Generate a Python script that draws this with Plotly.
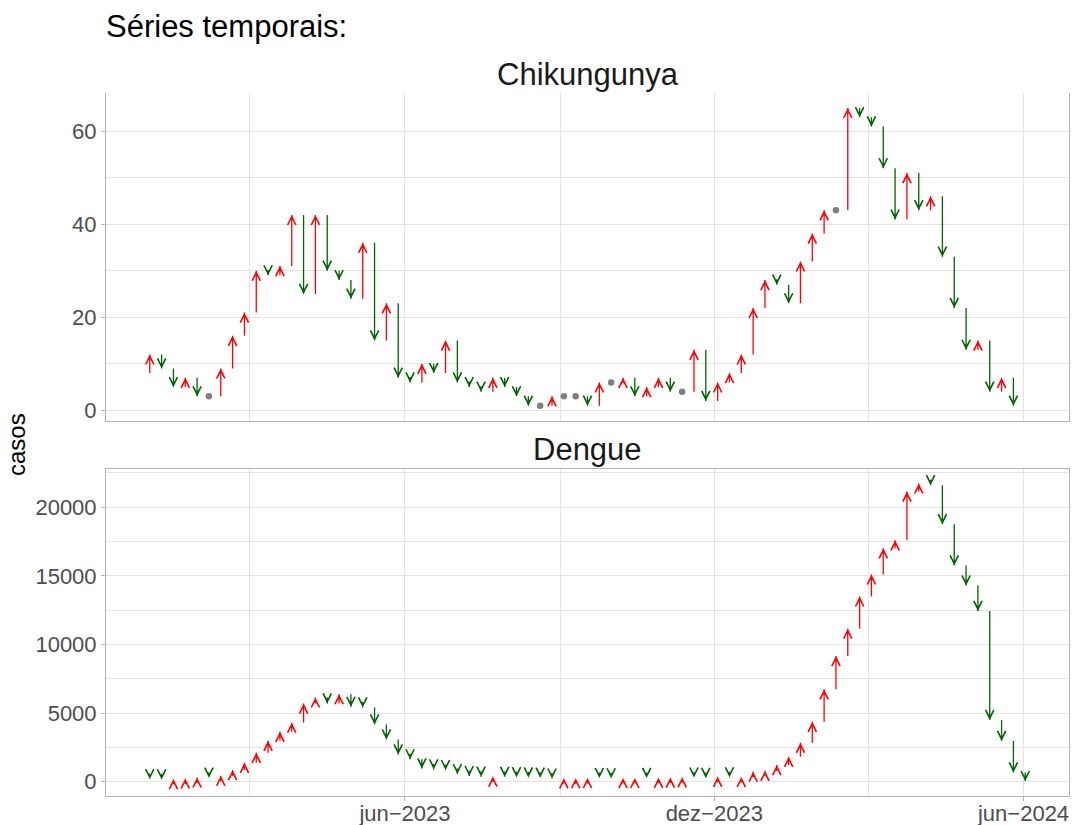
import pandas as pd
import plotly.graph_objects as go

# ---------------- data ----------------
first_week = "2022-12-25"  # week before the first arrow (start value of first arrow)
chik_casos = [8, 12, 9, 5, 7, 3, 3, 9, 16, 21, 30, 29, 31, 42, 25, 42, 30, 28, 24, 36,
              15, 23, 7, 6, 10, 8, 15, 6, 5, 4, 7, 5, 3, 1, 1, 3, 3, 3, 1, 6,
              6, 7, 3, 5, 7, 4, 4, 13, 2, 6, 8, 12, 22, 28, 27, 23, 32, 38, 43, 43,
              65, 63, 61, 52, 41, 51, 43, 46, 33, 22, 13, 15, 4, 7, 1]
dengue_casos = [230, 190, 165, 190, 240, 315, 290, 440, 850, 1380, 2110,
                2980, 3640, 4300, 5700, 6140, 5700, 6380, 5460, 5410, 4175,
                3080, 1990, 1630, 970, 900, 850, 560, 410, 365, 380,
                350, 330, 310, 290, 230, 245, 260, 275, 265, 250,
                265, 280, 270, 285, 300, 320, 300, 280, 360, 320,
                350, 730, 800, 1215, 1820, 2840, 4370, 6730, 9160, 11150,
                13500, 15100, 17000, 17590, 21140, 21730, 21600, 18760, 15750, 14290,
                12440, 4500, 2970, 680, 45]
x_tick_vals = ["2023-06-01", "2023-12-01", "2024-06-01"]
x_tick_text = ["jun\u22122023", "dez\u22122023", "jun\u22122024"]
x_minor_vals = ["2023-03-01", "2023-09-01", "2024-03-01"]
chik_ticks = [0, 20, 40, 60]
dengue_ticks = [0, 5000, 10000, 15000, 20000]
panel_titles = ["Chikungunya", "Dengue"]

RED = "#FF0000"
GREEN = "#006400"
GREY = "#7F7F7F"
FONT = "Liberation Sans, Arial, Helvetica, sans-serif"

chik_dates = pd.date_range(first_week, periods=len(chik_casos), freq="7D")
dengue_dates = pd.date_range(first_week, periods=len(dengue_casos), freq="7D")

fig = go.Figure()
annotations = []


def add_series(dates, vals, xa, ya):
    up_x, up_y, dn_x, dn_y, eq_x, eq_y = [], [], [], [], [], []
    for i in range(1, len(vals)):
        d = dates[i].strftime("%Y-%m-%d")
        prev, cur = vals[i - 1], vals[i]
        if cur > prev:
            up_x += [d, d, None]
            up_y += [prev, cur, None]
            col, ay = RED, 7
        elif cur < prev:
            dn_x += [d, d, None]
            dn_y += [prev, cur, None]
            col, ay = GREEN, -7
        else:
            eq_x.append(d)
            eq_y.append(cur)
            continue
        annotations.append(dict(x=d, y=cur, xref=xa, yref=ya, text="", showarrow=True,
                                ax=0, ay=ay, arrowhead=5, arrowsize=1.25, arrowwidth=1.3,
                                arrowcolor=col, standoff=0))
    fig.add_trace(go.Scatter(x=up_x, y=up_y, mode="lines", line=dict(color=RED, width=1.3),
                             xaxis=xa, yaxis=ya, showlegend=False, hoverinfo="skip"))
    fig.add_trace(go.Scatter(x=dn_x, y=dn_y, mode="lines", line=dict(color=GREEN, width=1.3),
                             xaxis=xa, yaxis=ya, showlegend=False, hoverinfo="skip"))
    if eq_x:
        fig.add_trace(go.Scatter(x=eq_x, y=eq_y, mode="markers",
                                 marker=dict(color=GREY, size=6.5),
                                 xaxis=xa, yaxis=ya, showlegend=False, hoverinfo="skip"))


add_series(chik_dates, chik_casos, "x", "y")
add_series(dengue_dates, dengue_casos, "x2", "y2")

# x range with 5% expansion over the arrow dates
x0 = min(chik_dates[1], dengue_dates[1])
x1 = max(chik_dates[-1], dengue_dates[-1])
span = x1 - x0
xr = [(x0 - span * 0.05).strftime("%Y-%m-%d %H:%M"), (x1 + span * 0.05).strftime("%Y-%m-%d %H:%M")]


def yrange(vals):
    lo, hi = min(vals), max(vals)
    e = (hi - lo) * 0.05
    return [lo - e, hi + e]


GRID = "#E3E3E3"
BORDER = "#B3B3B3"
TICKFONT = dict(family=FONT, size=22, color="#4D4D4D")

xcommon = dict(type="date", range=xr, tickvals=x_tick_vals, ticktext=x_tick_text,
               showgrid=True, gridcolor=GRID, gridwidth=1,
               minor=dict(tickvals=x_minor_vals, showgrid=True, gridcolor=GRID, gridwidth=1, ticks=""),
               showline=True, linecolor=BORDER, linewidth=1, mirror=True, zeroline=False,
               tickfont=TICKFONT, automargin=False)
ycommon = dict(showgrid=True, gridcolor=GRID, gridwidth=1, showline=True, linecolor=BORDER,
               linewidth=1, mirror=True, zeroline=False, ticks="outside", ticklen=4,
               tickcolor=BORDER, tickwidth=1, tickfont=TICKFONT, tickformat="d",
               automargin=False)

top_bottom = 0.5341
bot_top = 0.4658

fig.update_layout(
    width=1072, height=825,
    margin=dict(l=106, r=3, t=93, b=29),
    paper_bgcolor="white", plot_bgcolor="white",
    showlegend=False,
    xaxis=dict(xcommon, domain=[0, 1], anchor="y", showticklabels=False, ticks="", mirror=False),
    xaxis2=dict(xcommon, domain=[0, 1], anchor="y2", matches="x", ticks="outside",
                ticklen=4, tickcolor=BORDER, ticklabelstandoff=-6),
    yaxis=dict(ycommon, domain=[top_bottom, 1], range=yrange(chik_casos), tickvals=chik_ticks,
               minor=dict(dtick=10, tick0=0, showgrid=True, gridcolor=GRID, gridwidth=1, ticks="")),
    yaxis2=dict(ycommon, domain=[0, bot_top], range=yrange(dengue_casos), tickvals=dengue_ticks,
                minor=dict(dtick=2500, tick0=0, showgrid=True, gridcolor=GRID, gridwidth=1, ticks="")),
)

annotations += [
    dict(text="Séries temporais:", xref="paper", yref="paper", x=-0.002, y=1.094, xanchor="left",
         yanchor="middle", showarrow=False, font=dict(family=FONT, size=31, color="black")),
    dict(text=panel_titles[0], xref="paper", yref="paper", x=0.5, y=1.0266, xanchor="center",
         yanchor="middle", showarrow=False, font=dict(family=FONT, size=31, color="#1A1A1A")),
    dict(text=panel_titles[1], xref="paper", yref="paper", x=0.5, y=0.493, xanchor="center",
         yanchor="middle", showarrow=False, font=dict(family=FONT, size=31, color="#1A1A1A")),
    dict(text="casos", xref="paper", yref="paper", x=-0.0924, y=0.4993, xanchor="center",
         yanchor="middle", textangle=-90, showarrow=False,
         font=dict(family=FONT, size=24, color="black")),
]
fig.update_layout(annotations=annotations)

fig.write_html("out.html", config={"displayModeBar": False},
               post_script="document.body.style.margin='0';document.body.style.overflow='hidden';")
